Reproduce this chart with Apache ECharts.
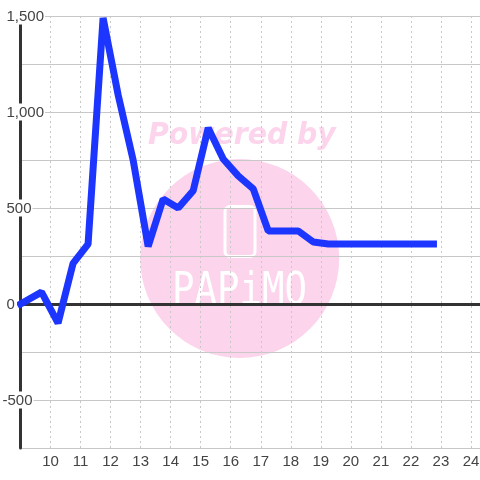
<!DOCTYPE html>
<html>
<head>
<meta charset="utf-8">
<style>
  html, body { margin: 0; padding: 0; background: #fff; }
  #chart { width: 480px; height: 480px; }
</style>
<script src="https://cdn.jsdelivr.net/npm/echarts@6/dist/echarts.min.js"></script>
</head>
<body>
<div id="chart"></div>
<script>
const hours = [9, 9.7, 10.25, 10.75, 11.25, 11.75, 12.25, 12.75, 13.25, 13.75, 14.25, 14.75, 15.25, 15.75, 16.25, 16.75, 17.25, 17.75, 18.25, 18.75, 19.25, 19.75, 20.25, 20.75, 21.25, 21.75, 22.25, 22.75]
const values = [0, 62, -100, 212, 312, 1490, 1090, 750, 300, 547, 500, 590, 917, 755, 667, 600, 380, 380, 380, 323, 313, 313, 313, 313, 313, 313, 313, 313]
const yTickLabels = [-500, 0, 500, 1000, 1500]

const chart = echarts.init(document.getElementById('chart'))
const font = '"Liberation Sans", Arial, sans-serif'
const pink = '#fcd5ec'

chart.setOption({
  backgroundColor: '#ffffff',
  animation: false,
  grid: { left: 20.5, right: 0, top: 16, bottom: 32, outerBoundsMode: 'none' },
  xAxis: [{
    // dark line at zero
    type: 'value', min: 9, max: 24.3, interval: 1, z: 1,
    axisLine: { onZero: true, lineStyle: { color: '#333333', width: 3 } },
    axisTick: { show: false },
    axisLabel: { show: false },
    splitLine: { show: false }
  }, {
    type: 'value', min: 9, max: 24.3, interval: 1, position: 'bottom',
    axisLine: { onZero: false, lineStyle: { color: '#c8c8c8', width: 1 } },
    axisTick: { show: false },
    axisLabel: {
      color: '#444444', fontSize: 15, fontFamily: font, margin: 6,
      showMinLabel: false, showMaxLabel: false
    },
    splitLine: { show: true, lineStyle: { color: '#c8c8c8', type: [2, 3], width: 1 } }
  }],
  yAxis: {
    type: 'value', min: -750, max: 1500, interval: 250, z: 1,
    axisLine: { show: true, onZero: false, lineStyle: { color: '#333333', width: 3 } },
    axisTick: { show: false },
    splitLine: { show: true, lineStyle: { color: '#c8c8c8', width: 1 } },
    axisLabel: {
      inside: true, margin: -19, align: 'left',
      color: '#444444', fontSize: 15, fontFamily: font,
      backgroundColor: '#ffffff', padding: [2, 1, 0, 1],
      hideOverlap: false, showMinLabel: true, showMaxLabel: true,
      formatter: v => {
        if (!yTickLabels.includes(v)) return ''
        return v < 0 ? '{neg|' + v + '}' : '{pos|' + v.toLocaleString('en-US') + '}'
      },
      rich: {
        neg: { fontSize: 15, fontFamily: font, color: '#444444', padding: [0, 0, 0, 0] },
        pos: { fontSize: 15, fontFamily: font, color: '#444444', padding: [0, 0, 0, 4] }
      }
    }
  },
  graphic: [
    {
      type: 'circle', z: -1, silent: true,
      shape: { cx: 239.7, cy: 258.5, r: 99.5 },
      style: { fill: pink }
    },
    {
      type: 'text', z: -1, silent: true, x: 148, y: 121, scaleX: 0.945,
      style: { text: 'Powered by', fill: pink, font: 'italic bold 30px "DejaVu Sans"' }
    },
    {
      type: 'rect', z: -1, silent: true,
      shape: { x: 225, y: 206.5, width: 30, height: 50, r: 5 },
      style: { fill: 'none', stroke: '#ffffff', lineWidth: 3 }
    },
    {
      type: 'text', z: -1, silent: true, x: 172, y: 270, scaleX: 0.83,
      style: { text: 'PAPiMO', fill: '#ffffff', font: '45px "DejaVu Sans Mono"' }
    }
  ],
  series: [{
    type: 'line',
    xAxisIndex: 1,
    data: hours.map((h, i) => [h, values[i]]),
    showSymbol: false,
    clip: false,
    smooth: false,
    lineStyle: { color: '#1c36ff', width: 7, join: 'bevel', cap: 'square' }
  }]
})
</script>
</body>
</html>
